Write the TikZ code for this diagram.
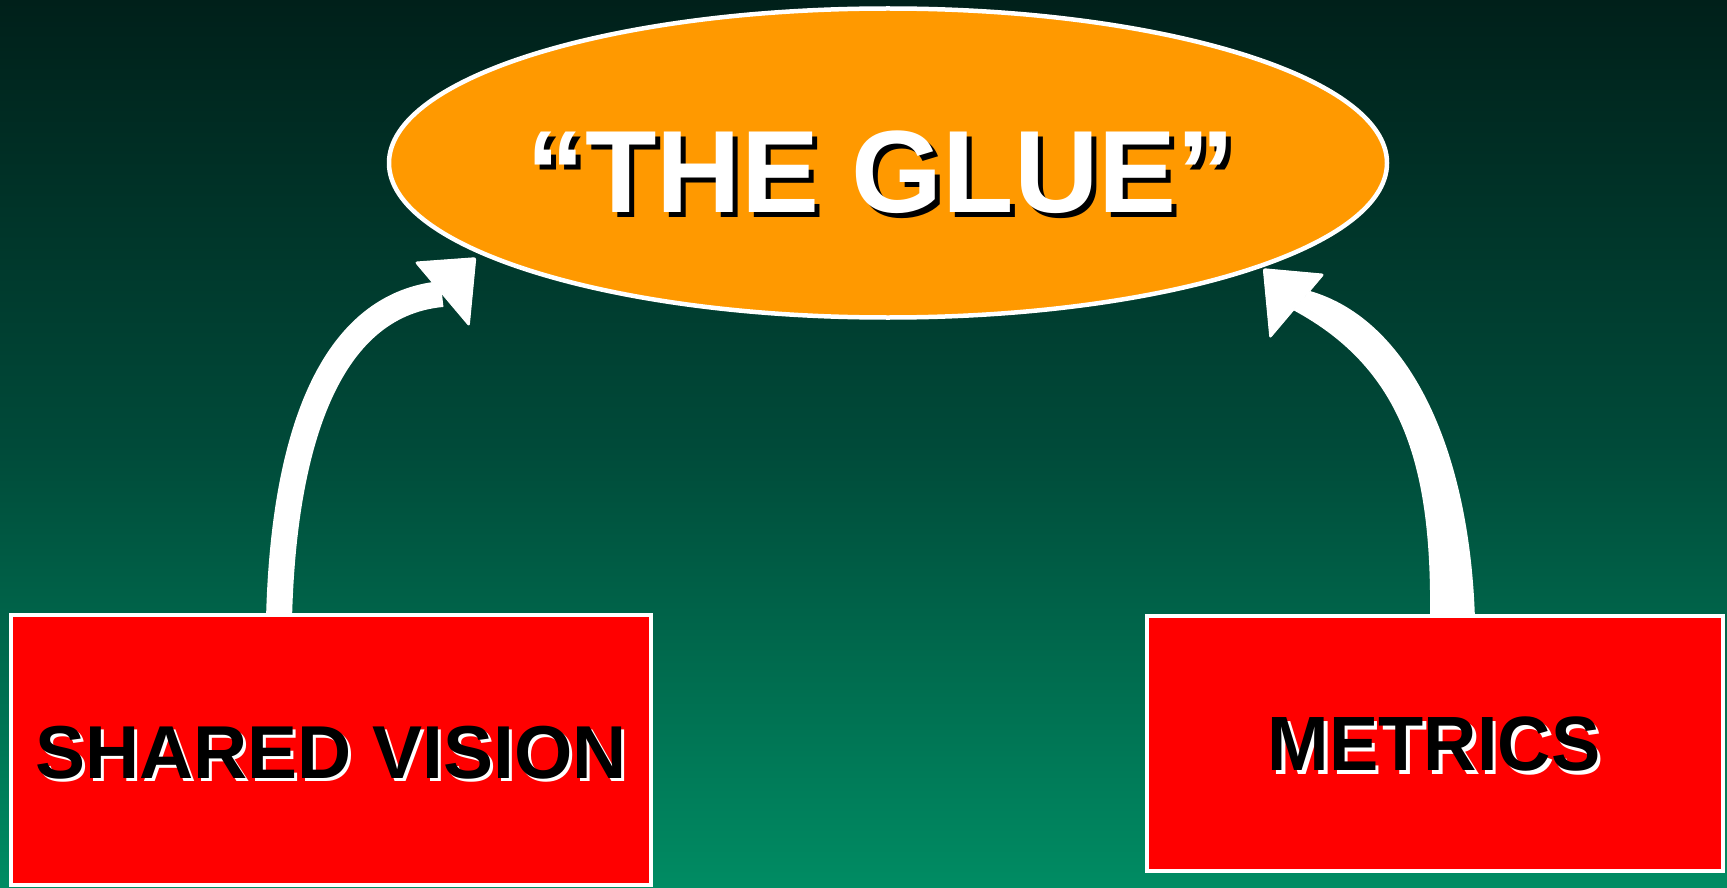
\documentclass[tikz,border=0pt]{standalone}
\usepackage{fontspec}
\setmainfont{Liberation Sans}
\usetikzlibrary{shapes.geometric}
\definecolor{bgtop}{RGB}{0,32,26}
\definecolor{bgmid}{RGB}{0,74,57}
\definecolor{bgbot}{RGB}{0,140,99}
\definecolor{glueorange}{RGB}{255,153,0}
\definecolor{boxred}{RGB}{255,0,0}
\tikzset{
  bigfont/.style={font=\fontsize{117}{120}\selectfont\bfseries},
  boxfont/.style={font=\fontsize{75}{80}\selectfont\bfseries},
  redbox/.style={draw=white, line width=4pt, fill=boxred, inner sep=0pt},
  arrowbody/.style={draw=white, line width=26pt},
  arrowhead/.style={fill=white, draw=white, line width=1pt, rounded corners=2pt, line join=round},
  txt/.style={inner sep=0pt, anchor=base}
}
\begin{document}
\begin{tikzpicture}[x=1pt,y=-1pt]
\useasboundingbox (0,0) rectangle (1727,888);
\shade[top color=bgtop, bottom color=bgbot, middle color=bgmid] (0,0) rectangle (1727,888);

% nodes
\node[ellipse, draw=white, line width=4.5pt, fill=glueorange, minimum width=998pt, minimum height=309pt, inner sep=0pt] (glue) at (888,163) {};
\coordinate (lstart) at (279,620);
\coordinate (lbase) at (442,294);

% left arrow
\draw[arrowbody] (lstart) .. controls (283,450) and (325,305) .. (lbase);
\filldraw[arrowhead] (475.8,257.7) -- (415.2,262.1) -- (469.2,326) -- cycle;

% right arrow (tapering shaft)
\fill[white] (1430,620) .. controls (1432,470) and (1405,370) .. (1293,310) -- (1310,291) .. controls (1410,320) and (1470,450) .. (1475,620) -- cycle;
\filldraw[arrowhead] (1263.3,268.7) -- (1323.9,274.2) -- (1269.9,338.1) -- cycle;

% boxes
\node[redbox, minimum width=640pt, minimum height=270pt] (sv) at (331,750) {};
\node[redbox, minimum width=576pt, minimum height=255pt] (met) at (1435,743.5) {};

% texts
\node[txt, bigfont, text=black] (glueshadow) at (886,217) {“THE GLUE”};
\node[txt, bigfont, text=white] (gluetext) at (881,212) {“THE GLUE”};

\node[txt, boxfont, text=white] (svshadow) at (334,781.5) {SHARED VISION};
\node[txt, boxfont, text=black] (svtext) at (331,778.5) {SHARED VISION};

\node[txt, font=\fontsize{77}{80}\selectfont\bfseries, text=white] (metshadow) at (1437.5,774) {\scalebox{0.96}[1]{METRICS}};
\node[txt, font=\fontsize{77}{80}\selectfont\bfseries, text=black] (mettext) at (1434,770.5) {\scalebox{0.96}[1]{METRICS}};
\end{tikzpicture}
\end{document}
